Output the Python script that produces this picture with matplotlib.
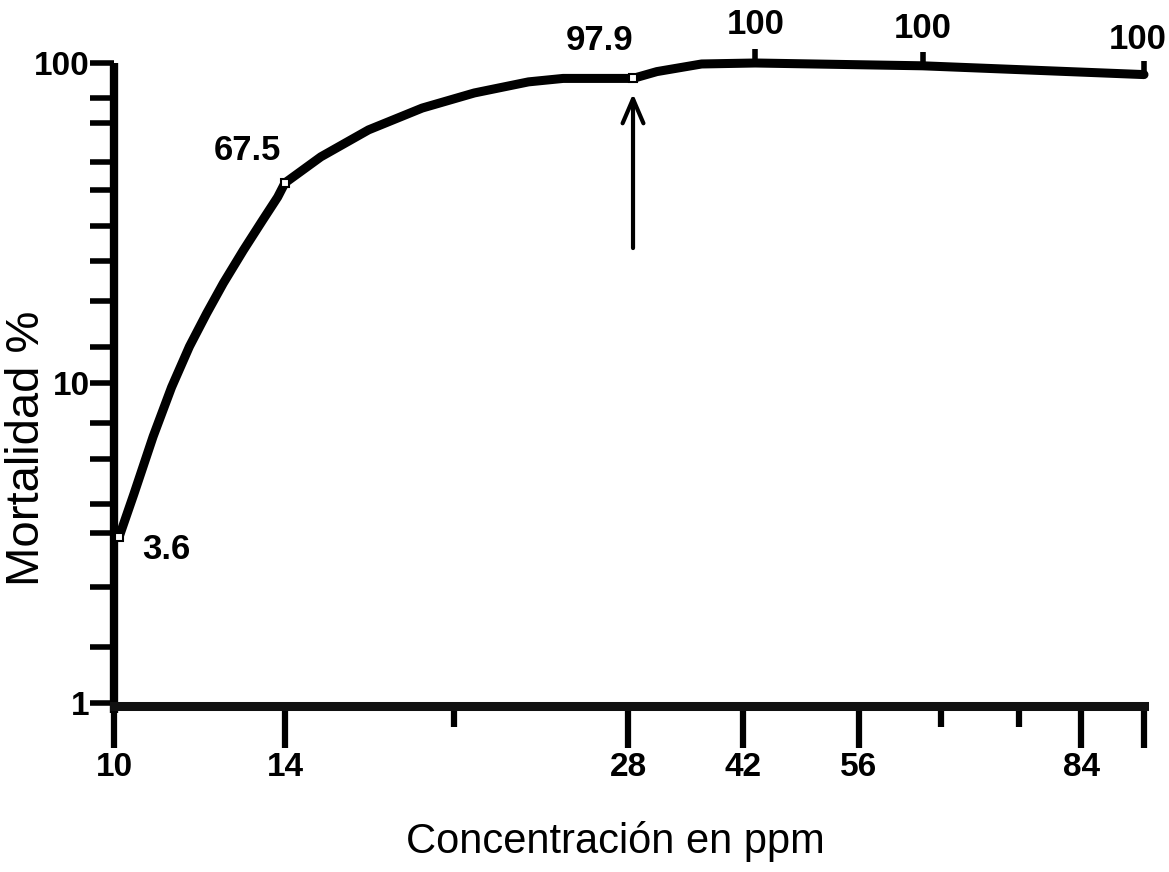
import numpy as np
import matplotlib
matplotlib.use("Agg")
import matplotlib.pyplot as plt
from matplotlib.ticker import NullFormatter

# Curve as drawn in the figure
curve_conc = [10.1, 10.4, 10.8, 11.2, 11.6, 12.0, 12.4, 12.9, 13.4, 13.8, 14.0,
              15.1, 16.7, 18.7, 20.8, 23.1, 24.7, 28.5, 31.0, 36.3, 43.3, 62.9, 100]
curve_mort = [3.3, 4.5, 6.8, 9.7, 13.0, 16.5, 20.5, 26.0, 32.3, 38.1, 42.2,
              50.9, 61.8, 72.3, 80.6, 87.3, 89.5, 89.5, 94.0, 99.3, 100, 98, 92]

# Measured points: where they sit on the curve, and the value written next to them
point_conc = [10.1, 14.0, 28.5, 43.3, 62.9, 100]
point_mort = [3.3, 42.2, 89.5, 100, 98, 92]
point_text = ['3.6', '67.5', '97.9', '100', '100', '100']

# Axis ticks
x_major = [10, 14, 28, 42, 56, 84, 100]
x_major_labels = ['10', '14', '28', '42', '56', '84', '']
x_minor = [20, 65, 75]
y_major = [1, 10, 100]
y_major_labels = ['1', '10', '100']
y_minor = [1.5, 2.3, 3.4, 4.2, 5.8, 7.5, 13, 18, 24, 31, 40, 49, 65, 78]

# The original x axis is hand-ruled and not a clean log scale, so the scale
# is piecewise-logarithmic between the ruled concentrations.
RULE_CONC = np.array([10, 14, 20, 28, 42, 56, 84, 100], dtype=float)
RULE_POS = np.array([0, 171, 340, 514, 629, 745, 967, 1030], dtype=float)
RULE_LOG = np.log10(RULE_CONC)


def fwd(x):
    lx = np.log10(np.maximum(np.asarray(x, dtype=float), 1e-6))
    out = np.interp(lx, RULE_LOG, RULE_POS)
    s0 = (RULE_POS[1] - RULE_POS[0]) / (RULE_LOG[1] - RULE_LOG[0])
    s1 = (RULE_POS[-1] - RULE_POS[-2]) / (RULE_LOG[-1] - RULE_LOG[-2])
    out = np.where(lx < RULE_LOG[0], RULE_POS[0] + (lx - RULE_LOG[0]) * s0, out)
    out = np.where(lx > RULE_LOG[-1], RULE_POS[-1] + (lx - RULE_LOG[-1]) * s1, out)
    return out


def inv(p):
    p = np.asarray(p, dtype=float)
    out = np.interp(p, RULE_POS, RULE_LOG)
    s0 = (RULE_LOG[1] - RULE_LOG[0]) / (RULE_POS[1] - RULE_POS[0])
    s1 = (RULE_LOG[-1] - RULE_LOG[-2]) / (RULE_POS[-1] - RULE_POS[-2])
    out = np.where(p < RULE_POS[0], RULE_LOG[0] + (p - RULE_POS[0]) * s0, out)
    out = np.where(p > RULE_POS[-1], RULE_LOG[-1] + (p - RULE_POS[-1]) * s1, out)
    return 10 ** out


NARROW = ['Liberation Sans Narrow', 'Liberation Sans', 'DejaVu Sans']

fig = plt.figure(figsize=(11.69, 8.72), dpi=100)
ax = fig.add_axes([114 / 1169, 159 / 872, 1030 / 1169, 650 / 872])

ax.set_xscale('function', functions=(fwd, inv))
ax.set_yscale('log')
ax.set_xlim(10, 100)
ax.set_ylim(0.93, 100)

for side in ['top', 'right']:
    ax.spines[side].set_visible(False)
ax.spines['left'].set_linewidth(6)
ax.spines['bottom'].set_linewidth(6.5)
ax.spines['bottom'].set_color('#111111')
ax.spines['bottom'].set_position(('data', 0.98))
ax.spines['left'].set_capstyle('butt')

ax.set_xticks(x_major, labels=x_major_labels)
ax.set_xticks(x_minor, minor=True)
ax.xaxis.set_minor_formatter(NullFormatter())
ax.set_yticks(y_major, labels=y_major_labels)
ax.set_yticks(y_minor, minor=True)
ax.yaxis.set_minor_formatter(NullFormatter())

ax.tick_params(axis='x', which='major', direction='out', length=30, width=4.5, pad=3)
ax.tick_params(axis='x', which='minor', direction='out', length=15, width=4.5)
ax.tick_params(axis='y', which='both', direction='out', length=17, width=4, pad=0.5)

for lab in ax.get_xticklabels() + ax.get_yticklabels():
    lab.set_fontfamily(NARROW)
    lab.set_fontweight('bold')
    lab.set_fontsize(24)

# curve
ax.plot(curve_conc, curve_mort, color='black', lw=6.5,
        solid_capstyle='round', solid_joinstyle='round', clip_on=False, zorder=3)

# measured points
ax.plot(point_conc[:3], point_mort[:3], ls='none', marker='s', ms=6,
        mfc='white', mec='black', mew=1.5, clip_on=False, zorder=4)
ax.plot(point_conc[3:], point_mort[3:], ls='none', marker=2, ms=10,
        mew=4, color='black', clip_on=False, zorder=4)

# value labels
label_offsets = [(17, -9), (-27, 23), (-24, 27), (0, 28), (0, 27), (16, 25)]
label_ha = ['left', 'center', 'center', 'center', 'center', 'right']
for cx, my, txt, off, ha in zip(point_conc, point_mort, point_text, label_offsets, label_ha):
    ax.annotate(txt, xy=(cx, my), xytext=off, textcoords='offset points',
                ha=ha, va='center', fontsize=25, fontweight='bold',
                family=NARROW, annotation_clip=False)

# arrow pointing at the 97.9 point
ARROW_FROM = 26.4
ax.annotate('', xy=(point_conc[2], point_mort[2]), xytext=(point_conc[2], ARROW_FROM),
            arrowprops=dict(arrowstyle='->,head_length=0.7,head_width=0.3',
                            lw=3, color='black', shrinkA=0, shrinkB=11,
                            mutation_scale=25))

fig.text(27 / 1169, 1 - 448 / 872, 'Mortalidad %', rotation=90, ha='center', va='center',
         fontsize=34, family=['Liberation Sans', 'DejaVu Sans'])
fig.text(615 / 1169, 1 - 853 / 872, 'Concentración en ppm', ha='center', va='baseline',
         fontsize=30, family=NARROW)

fig.savefig('out.png', dpi=100)
